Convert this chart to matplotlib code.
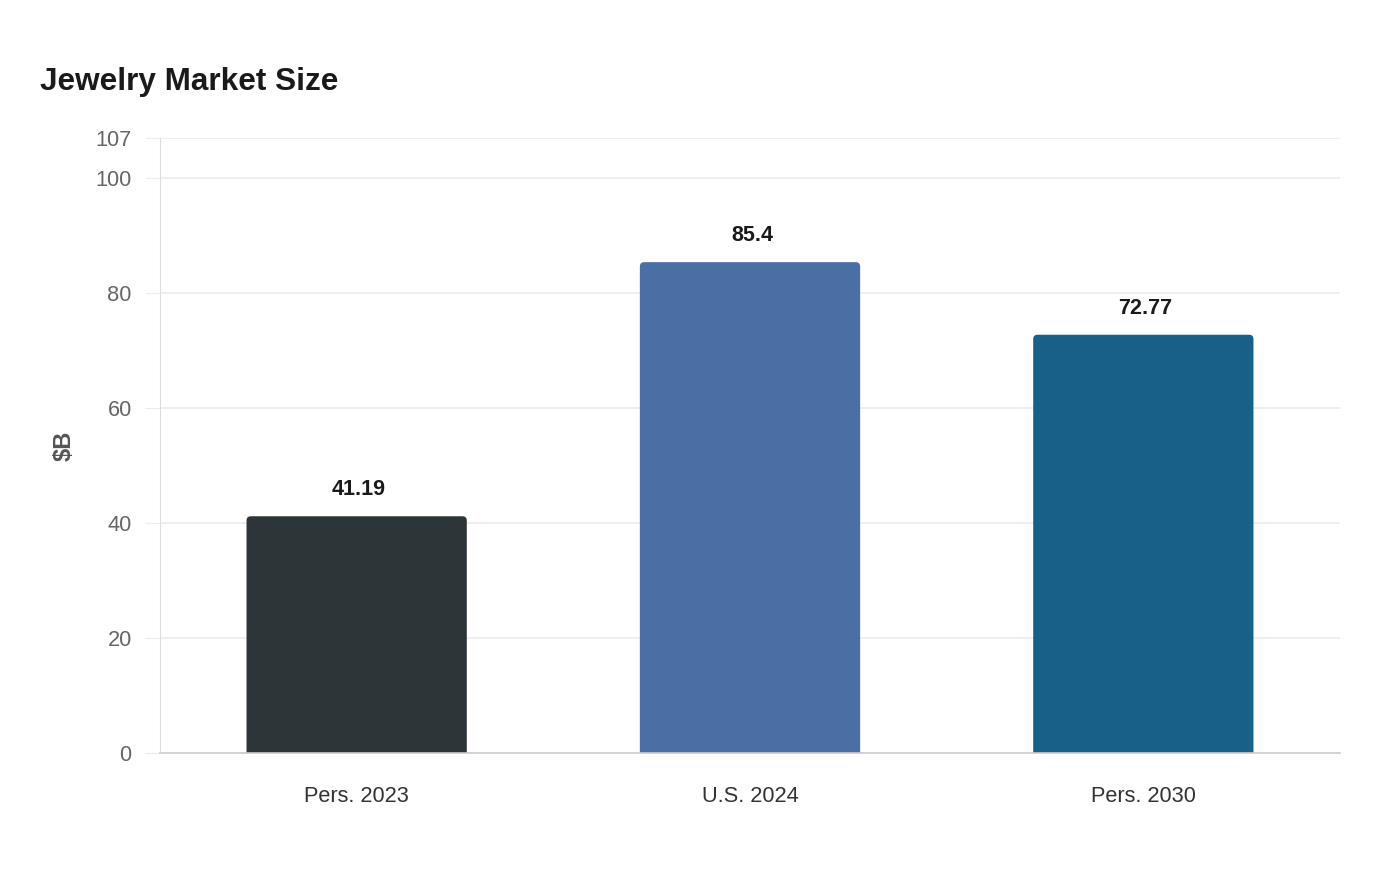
import matplotlib
matplotlib.use('Agg')
from matplotlib import pyplot as plt
from matplotlib.patches import FancyBboxPatch

categories = ['Pers. 2023', 'U.S. 2024', 'Pers. 2030']
values = [41.19, 85.4, 72.77]
labels = ['41.19', '85.4', '72.77']
colors = ['#2e3538', '#4a6fa5', '#186088']
y_ticks = [0, 20, 40, 60, 80, 100, 107]

plt.rcParams['font.family'] = ['Liberation Sans', 'DejaVu Sans']

fig = plt.figure(figsize=(14, 8.8), dpi=100)
ax = fig.add_axes([160 / 1400, 1 - 753 / 880, 1180 / 1400, 615 / 880])

x = list(range(len(categories)))
bars = ax.bar(x, values, width=0.56, color=colors)

ax.set_xlim(-0.5, 2.5)
ax.set_ylim(0, 107)

# swap bars for ones with rounded top corners
aspect = (1 / 5.748) / (1 / 393.3)
for b, c in zip(bars, colors):
    b.set_visible(False)
    p = FancyBboxPatch((b.get_x(), -3), b.get_width(), b.get_height() + 3,
                       boxstyle='round,pad=0,rounding_size=0.011',
                       mutation_aspect=aspect, facecolor=c, edgecolor='none',
                       clip_on=True)
    ax.add_patch(p)

for xi, v, t in zip(x, values, labels):
    ax.annotate(t, (xi, v), xytext=(1.5, 11.5), textcoords='offset points',
                ha='center', va='bottom', fontsize=15.5, fontweight='bold',
                color='#1a1a1a')

ax.set_yticks(y_ticks)
ax.set_yticklabels([str(t) for t in y_ticks])
ax.set_xticks(x)
ax.set_xticklabels(categories)
ax.tick_params(axis='y', length=11, color='#ececec', labelsize=15.7,
               labelcolor='#666666', pad=9.4)
ax.tick_params(axis='x', length=0, labelsize=15.7, labelcolor='#333333', pad=24)
ax.grid(axis='y', color='#ececec', linewidth=1.2)
ax.set_axisbelow(True)

for s in ['top', 'right']:
    ax.spines[s].set_visible(False)
ax.spines['left'].set_color('#dddddd')
ax.spines['bottom'].set_color('#cccccc')
ax.spines['bottom'].set_linewidth(1.2)

ax.set_ylabel('$B', fontsize=17, fontweight='bold', color='#555555', labelpad=14)

fig.text(40 / 1400, 1 - 90 / 880, 'Jewelry Market Size', fontsize=22.7,
         fontweight='bold', color='#1a1a1a', ha='left', va='baseline')

fig.savefig('out.png', dpi=100)
